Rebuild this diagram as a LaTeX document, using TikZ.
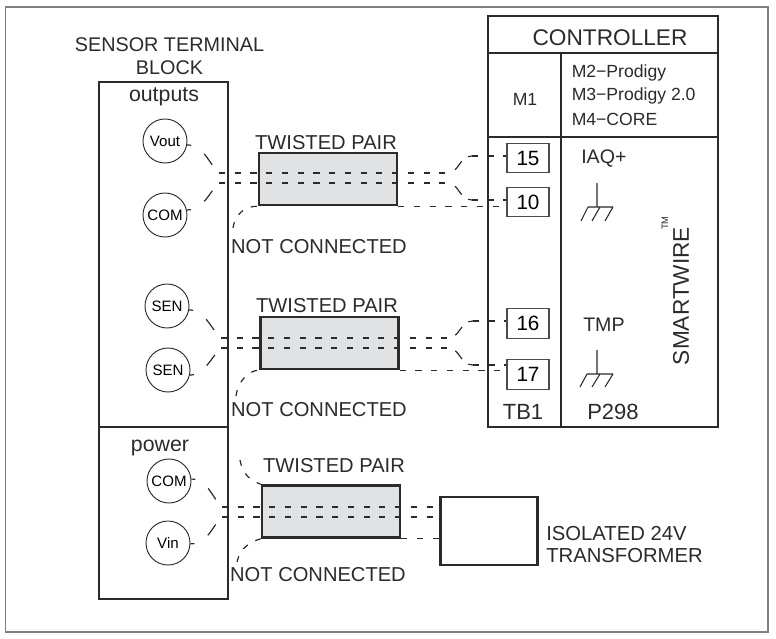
\documentclass[tikz,border=0pt]{standalone}
\usepackage{fontspec}
\setmainfont{Liberation Sans}
\definecolor{ink}{HTML}{2B2B2B}
\definecolor{shade}{HTML}{E1E2E3}
\tikzset{
 x=0.75pt,y=-0.75pt,
 box/.style={draw=ink,line width=1.8pt},
 thin box/.style={draw=ink!85,line width=0.8pt,minimum width=31.5pt,minimum height=22pt,inner sep=0pt,font=\fontsize{15.5}{16}\selectfont},
 term/.style={circle,draw=ink,line width=0.7pt,minimum size=33pt,inner sep=0pt,font=\fontsize{11.3}{12}\selectfont},
 pair/.style={draw=ink,fill=shade,line width=1.8pt,inner sep=0pt,minimum width=103.5pt,minimum height=39pt},
 wire/.style={draw=ink,line width=0.8pt,dash pattern=on 4.6pt off 7.2pt},
 leftcurve/.style={draw=ink,line width=0.9pt,dash pattern=on 3pt off 12pt on 10pt off 40pt},
 rightcurve/.style={draw=ink,line width=0.9pt,dash pattern=on 0pt off 6pt on 8pt off 6pt on 40pt},
 free/.style={draw=ink,line width=0.9pt,dash pattern=on 4.5pt off 6.5pt},
 lbl/.style={inner sep=0pt,text=ink,font=\fontsize{15.1}{18}\selectfont,align=center},
 sm/.style={inner sep=0pt,text=ink,font=\fontsize{13.2}{14}\selectfont},
 gnd/.style={draw=ink,line width=0.8pt},
}
\begin{document}
\begin{tikzpicture}
\useasboundingbox (0,0) rectangle (776,639);
\fill[white] (0,0) rectangle (776,639);
\draw[draw=black!50,line width=1.2pt] (5.5,7) rectangle (768,632);
% sensor block
\draw[box] (99,82) rectangle (228,599);
\draw[box] (99,427) -- (228,427);
\node[lbl,font=\fontsize{14.85}{18}\selectfont] at (169.5,56.5) {SENSOR TERMINAL\\[-1pt]BLOCK};
\node[lbl,font=\fontsize{16}{18}\selectfont] at (164,97) {outputs};
\node[lbl,font=\fontsize{16}{18}\selectfont] at (160,447.5) {power};
\node[term] (vout) at (165,141) {Vout};
\node[term] (com1) at (165,215) {COM};
\node[term] (sen1) at (167,306) {SEN};
\node[term] (sen2) at (168,370) {SEN};
\node[term] (com2) at (169,481) {COM};
\node[term] (vin) at (168,543) {Vin};
% twisted pair boxes
\node[pair] (p1) at (328,179) {};
\node[pair] (p2) at (329.5,343) {};
\node[pair] (p3) at (331,511.5) {};
\node[lbl] at (326,142.7) {TWISTED PAIR};
\node[lbl] at (327,305.7) {TWISTED PAIR};
\node[lbl] at (334,465.7) {TWISTED PAIR};
\node[lbl] at (319,246.7) {NOT CONNECTED};
\node[lbl] at (319,409.7) {NOT CONNECTED};
\node[lbl] at (318,574.7) {NOT CONNECTED};
% controller
\draw[box] (488,16) rectangle (718,427);
\draw[box] (488,53) -- (718,53);
\draw[box] (488,137) -- (718,137);
\draw[box] (561,53) -- (561,427);
\node[lbl,font=\fontsize{17}{18}\selectfont] at (610,37.5) {CONTROLLER};
\node[sm] at (525,99) {M1};
\node[sm,anchor=west] at (571.5,72.5) {M2−Prodigy};
\node[sm,anchor=west] at (571.5,95.5) {M3−Prodigy 2.0};
\node[sm,anchor=west] at (571.5,119) {M4−CORE};
\node[lbl,anchor=west,font=\fontsize{14.7}{16}\selectfont] at (581,159) {IAQ+};
\node[lbl,anchor=west,font=\fontsize{14.7}{16}\selectfont] at (583,325) {TMP};
\node[lbl,font=\fontsize{16.5}{18}\selectfont] at (523,412) {TB1};
\node[lbl,font=\fontsize{16.5}{18}\selectfont] at (613,412) {P298};
\node[lbl,rotate=90,font=\fontsize{17}{18}\selectfont] at (681,296) {SMARTWIRE};
\node[inner sep=0pt,rotate=90,text=ink,font=\fontsize{7}{8}\selectfont] at (665,223) {TM};
\node[thin box] (t15) at (528,158) {15};
\node[thin box] (t10) at (528,202) {10};
\node[thin box] (t16) at (528,323.5) {16};
\node[thin box] (t17) at (528,374.5) {17};
% grounds
\draw[gnd] (597,183) -- (597,207) (588,207) -- (613,207)
 (588,207) -- (581,221) (600,207) -- (592,221) (613,207) -- (605,221);
\draw[gnd] (597,350) -- (597,374) (587,374) -- (613,374)
 (587,374) -- (580,387) (600,374) -- (592,387) (613,374) -- (605,387);
% transformer
\node[box,minimum width=73pt,minimum height=51pt,inner sep=0pt] (tr) at (489,531) {};
\node[lbl,anchor=west,align=left,font=\fontsize{15.2}{18}\selectfont] at (546,544.5) {ISOLATED 24V\\[-1pt]TRANSFORMER};
% wires section 1
\coordinate (a1) at (219,173); \coordinate (b1) at (219,183);
\coordinate (c1) at (448,173); \coordinate (e1) at (448,183);
\coordinate (d1) at (472,156); \coordinate (f1) at (472,200);
\coordinate (n1) at (233,228);
\draw[leftcurve] (vout.-10) .. controls (204,145) and (209,164) .. (a1);
\draw[leftcurve] (com1.13) .. controls (204,210) and (209,192) .. (b1);
\draw[wire] (a1) -- (c1);
\draw[wire] (b1) -- (e1);
\draw[rightcurve] (c1) .. controls (459,173) and (459,156) .. (d1);
\draw[rightcurve] (e1) .. controls (459,183) and (459,200) .. (f1);
\draw[wire] (d1) -- (t15.west |- d1);
\draw[wire] (f1) -- (t10.west |- f1);
\draw[free] (n1) .. controls (235,214) and (245,206) .. (p1.south west);
\draw[wire] (p1.south east) -- (t10.west |- p1.south east);
% section 2
\coordinate (a2) at (221,338); \coordinate (b2) at (221,348);
\coordinate (c2) at (448,338); \coordinate (e2) at (448,348);
\coordinate (d2) at (473,321); \coordinate (f2) at (473,365);
\coordinate (n2) at (236,396);
\draw[leftcurve] (sen1.-10) .. controls (205,310) and (211,329) .. (a2);
\draw[leftcurve] (sen2.-13) .. controls (205,375) and (211,357) .. (b2);
\draw[wire] (a2) -- (c2);
\draw[wire] (b2) -- (e2);
\draw[rightcurve] (c2) .. controls (460,338) and (460,321) .. (d2);
\draw[rightcurve] (e2) .. controls (460,348) and (460,365) .. (f2);
\draw[wire] (d2) -- (t16.west |- d2);
\draw[wire] (f2) -- (t17.west |- f2);
\draw[free] (n2) .. controls (238,380) and (250,370) .. (p2.south west);
\draw[wire] (p2.south east) -- (t17.west |- p2.south east);
% section 3
\coordinate (a3) at (222,507); \coordinate (b3) at (222,517);
\coordinate (n3) at (240,460); \coordinate (n4) at (237,562);
\draw[leftcurve] (com2.5) .. controls (208,479) and (212,498) .. (a3);
\draw[leftcurve] (vin.-2) .. controls (208,544) and (212,526) .. (b3);
\draw[wire] (a3) -- (tr.west |- a3);
\draw[wire] (b3) -- (tr.west |- b3);
\draw[free] (n3) .. controls (243,475) and (250,480) .. (p3.north west);
\draw[free] (n4) .. controls (240,548) and (250,542) .. (p3.south west);
\draw[wire] (p3.south east) -- (tr.west |- p3.south east);
\end{tikzpicture}
\end{document}
